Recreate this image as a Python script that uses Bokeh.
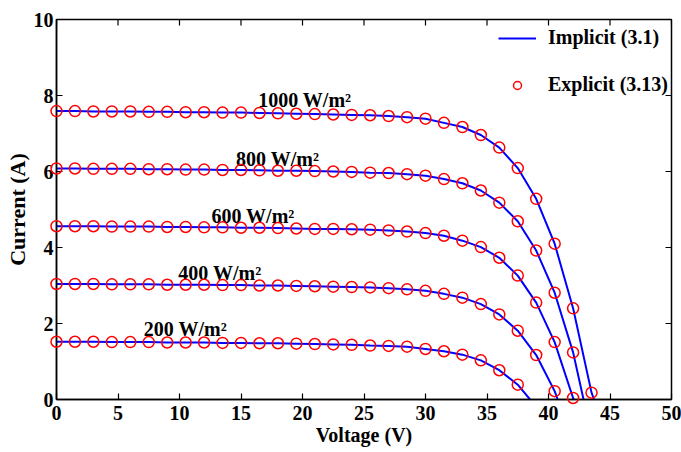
import math
from bokeh.plotting import figure
from bokeh.models import Range1d, FixedTicker, Legend, LegendItem, ColumnDataSource
from bokeh.core.properties import value
from bokeh.embed import file_html
from bokeh.resources import INLINE

# ---- data ----
voltage = [0, 1.5, 3, 4.5, 6, 7.5, 9, 10.5, 12, 13.5, 15, 16.5, 18, 19.5, 21,
           22.5, 24, 25.5, 27, 28.5, 30, 31.5, 33, 34.5, 36, 37.5, 39, 40.5, 42, 43.5]

i_1000 = [7.59, 7.59, 7.58, 7.58, 7.58, 7.57, 7.57, 7.56, 7.56, 7.55,
          7.55, 7.54, 7.53, 7.52, 7.51, 7.50, 7.49, 7.48, 7.46, 7.43,
          7.39, 7.28, 7.17, 6.96, 6.63, 6.09, 5.28, 4.10, 2.40, 0.18]
i_800 = [6.08, 6.08, 6.07, 6.07, 6.07, 6.06, 6.06, 6.05, 6.05, 6.04,
         6.04, 6.03, 6.02, 6.02, 6.01, 6.00, 5.99, 5.97, 5.96, 5.93,
         5.89, 5.80, 5.69, 5.50, 5.18, 4.69, 3.92, 2.81, 1.24]
i_600 = [4.56, 4.56, 4.56, 4.55, 4.55, 4.55, 4.54, 4.54, 4.53, 4.53,
         4.52, 4.52, 4.51, 4.50, 4.49, 4.49, 4.48, 4.47, 4.45, 4.42,
         4.38, 4.31, 4.18, 4.01, 3.73, 3.26, 2.55, 1.51, 0.04]
i_400 = [3.04, 3.04, 3.04, 3.03, 3.03, 3.03, 3.02, 3.02, 3.02, 3.01,
         3.01, 3.00, 3.00, 2.99, 2.98, 2.97, 2.96, 2.95, 2.93, 2.90,
         2.86, 2.78, 2.68, 2.51, 2.24, 1.81, 1.17, 0.22]
i_200 = [1.52, 1.52, 1.52, 1.51, 1.51, 1.51, 1.50, 1.50, 1.50, 1.49,
         1.49, 1.48, 1.48, 1.47, 1.46, 1.45, 1.44, 1.42, 1.41, 1.39,
         1.33, 1.27, 1.18, 1.03, 0.77, 0.39]

# open-circuit voltages (where each curve meets I = 0)
voc = [43.7, 42.85, 42.05, 40.75, 38.5]

curves = [i_1000, i_800, i_600, i_400, i_200]
labels = ["1000 W/m\u00b2", "800 W/m\u00b2", "600 W/m\u00b2", "400 W/m\u00b2", "200 W/m\u00b2"]
label_x = [16.4, 14.6, 12.6, 9.9, 7.1]
label_y = [7.87, 6.33, 4.84, 3.32, 1.86]

x_ticks = [0, 5, 10, 15, 20, 25, 30, 35, 40, 45, 50]
y_ticks = [0, 2, 4, 6, 8, 10]
X_MIN, X_MAX, Y_MIN, Y_MAX = 0, 50, 0, 10

FONT = "Liberation Serif"
FS = "20px"

p = figure(width=681, height=452, output_backend="svg", toolbar_location=None,
           x_range=Range1d(X_MIN, X_MAX), y_range=Range1d(Y_MIN, Y_MAX),
           min_border_left=56, min_border_right=10, min_border_top=19, min_border_bottom=53,
           background_fill_color="white", border_fill_color="white")
p.xgrid.visible = False
p.ygrid.visible = False
p.outline_line_color = "black"
p.outline_line_width = 1.5

for ax in (p.xaxis[0], p.yaxis[0]):
    ax.axis_line_color = "black"
    ax.axis_line_width = 1.5
    ax.major_tick_line_color = "black"
    ax.major_tick_line_width = 1.2
    ax.major_tick_in = 6
    ax.major_tick_out = 0
    ax.minor_tick_line_color = None
    ax.major_label_text_font = FONT
    ax.major_label_text_font_style = "bold"
    ax.major_label_text_color = "black"
    ax.major_label_text_font_size = FS
    ax.axis_label_text_font = FONT
    ax.axis_label_text_font_style = "bold"
    ax.axis_label_text_color = "black"

p.xaxis.ticker = FixedTicker(ticks=x_ticks)
p.yaxis.ticker = FixedTicker(ticks=y_ticks)
p.xaxis.major_label_standoff = 6
p.yaxis.major_label_standoff = 3
p.xaxis.axis_label = "Voltage (V)"
p.yaxis.axis_label = "Current (A)"
p.xaxis.axis_label_text_font_size = FS
p.yaxis.axis_label_text_font_size = "22px"
p.xaxis.axis_label_standoff = 1
p.yaxis.axis_label_standoff = 1

# mirrored inward ticks on the top and right edges (clipped to the frame)
p.scatter(x_ticks, [Y_MAX] * len(x_ticks), marker="dash", angle=math.pi / 2, size=12,
          line_color="black", line_width=1.2)
p.scatter([X_MAX] * len(y_ticks), y_ticks, marker="dash", size=12,
          line_color="black", line_width=1.2)

line_renderers = []
scatter_renderers = []
for cur, vo in zip(curves, voc):
    n = len(cur)
    lx = voltage[:n] + [vo]
    ly = cur + [0.0]
    lr = p.line(lx, ly, line_color="#0000ff", line_width=2)
    line_renderers.append(lr)
for cur in curves:
    n = len(cur)
    sr = p.scatter(voltage[:n], cur, marker="circle", size=11, fill_color=None,
                   line_color="#ff0000", line_width=1.5, level="overlay")
    scatter_renderers.append(sr)

src = ColumnDataSource(dict(x=label_x, y=label_y, t=labels))
p.text(x="x", y="y", text="t", source=src, text_font=value(FONT), text_font_style="bold",
       text_font_size=FS, text_color="black", text_align="left", text_baseline="alphabetic")

legend = Legend(items=[LegendItem(label="Implicit (3.1)", renderers=[line_renderers[0]]),
                       LegendItem(label="Explicit (3.13)", renderers=[scatter_renderers[0]])],
                location=(442, 303), orientation="vertical", padding=0, margin=0, spacing=24,
                glyph_width=38, glyph_height=20, label_height=20, label_standoff=12,
                border_line_alpha=0, background_fill_alpha=0,
                label_text_font=FONT, label_text_font_style="bold", label_text_font_size=FS,
                label_text_color="black")
p.add_layout(legend)

open("out.html", "w").write(file_html(p, INLINE))
